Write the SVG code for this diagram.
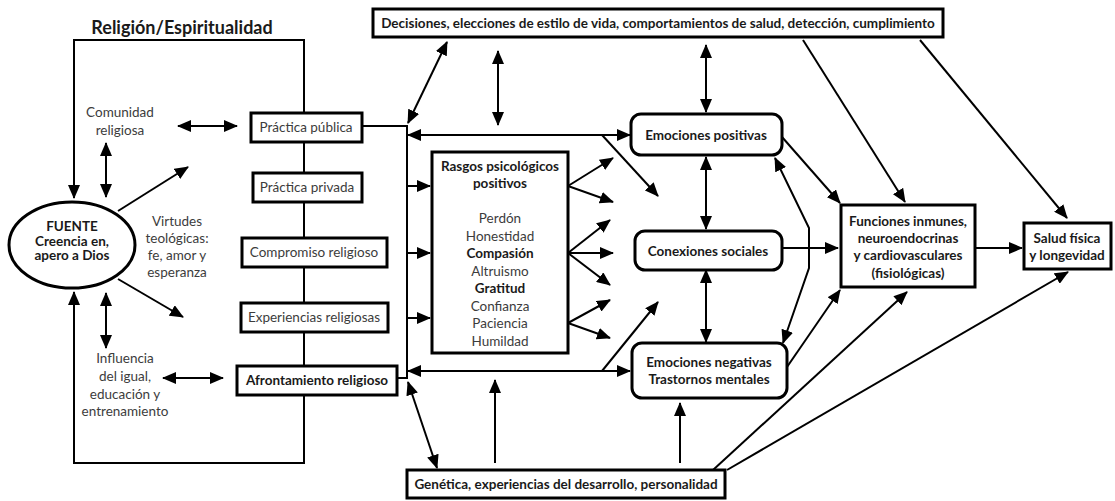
<svg xmlns="http://www.w3.org/2000/svg" width="1115" height="501" viewBox="0 0 1115 501">
  <style>
    text { font-family: Lato, "Open Sans", "Liberation Sans", sans-serif; font-size: 13.5px; fill: #3c3c3c; text-anchor: middle; }
    .b { font-weight: bold; fill: #1a1a1a; }
    .title { font-size: 18px; }
    .box { fill: #fff; stroke: #000; stroke-width: 3; }
    .c { fill: none; stroke: #000; stroke-width: 2; }
    .a { marker-end: url(#ah); }
    .d { marker-start: url(#ah); marker-end: url(#ah); }
  </style>
  <defs>
    <marker id="ah" viewBox="0 0 14 12" refX="13" refY="6" markerWidth="14" markerHeight="12" markerUnits="userSpaceOnUse" orient="auto-start-reverse">
      <path d="M0,0 L14,6 L0,12 z" fill="#000"/>
    </marker>
  </defs>

  <text class="b title" x="182" y="34">Religión/Espiritualidad</text>

  <!-- connectors -->
  <g id="connectors">
    <!-- outer religion frame -->
    <polyline class="c a" points="304,113 304,40 74,40 74,198"/>
    <polyline class="c a" points="304,395 304,463 74,463 74,292"/>
    <!-- chain of religious boxes -->
    <line class="c" x1="304" y1="142" x2="304" y2="366"/>
    <!-- around the source -->
    <line class="c d" x1="106" y1="143" x2="106" y2="197"/>
    <line class="c d" x1="106" y1="293" x2="106" y2="348"/>
    <line class="c a" x1="118" y1="211" x2="188" y2="167"/>
    <line class="c a" x1="118" y1="279" x2="183" y2="317"/>
    <line class="c d" x1="178" y1="126" x2="237" y2="126"/>
    <line class="c d" x1="163" y1="378" x2="223" y2="378"/>
    <!-- bus from practices -->
    <polyline class="c" points="362,126 407,126 407,378 397,378"/>
    <line class="c a" x1="407" y1="186" x2="430" y2="186"/>
    <line class="c a" x1="407" y1="253" x2="430" y2="253"/>
    <line class="c a" x1="407" y1="318" x2="430" y2="318"/>
    <line class="c d" x1="408" y1="123" x2="447" y2="42"/>
    <line class="c d" x1="498" y1="51" x2="498" y2="125"/>
    <line class="c d" x1="408" y1="135" x2="630" y2="135"/>
    <line class="c a" x1="602" y1="135" x2="658" y2="196"/>
    <line class="c d" x1="408" y1="371" x2="630" y2="371"/>
    <line class="c a" x1="602" y1="371" x2="658" y2="302"/>
    <line class="c d" x1="408" y1="382" x2="437" y2="468"/>
    <!-- from the traits box -->
    <line class="c a" x1="568" y1="186" x2="613" y2="158"/>
    <line class="c a" x1="568" y1="186" x2="613" y2="202"/>
    <line class="c a" x1="568" y1="253" x2="610" y2="220"/>
    <line class="c a" x1="568" y1="253" x2="613" y2="253"/>
    <line class="c a" x1="568" y1="253" x2="610" y2="285"/>
    <line class="c a" x1="568" y1="323" x2="610" y2="300"/>
    <line class="c a" x1="568" y1="323" x2="610" y2="338"/>
    <!-- emotions and social connections -->
    <line class="c d" x1="706" y1="45" x2="706" y2="112"/>
    <line class="c d" x1="706" y1="157" x2="706" y2="229"/>
    <line class="c d" x1="706" y1="270" x2="706" y2="342"/>
    <polyline class="c d" points="775,158 809,228 809,268 783,343"/>
    <line class="c a" x1="782" y1="137" x2="840" y2="203"/>
    <line class="c a" x1="782" y1="248" x2="838" y2="248"/>
    <line class="c a" x1="787" y1="367" x2="840" y2="290"/>
    <!-- decisions -->
    <line class="c a" x1="803" y1="40" x2="905" y2="202"/>
    <line class="c a" x1="920" y1="40" x2="1067" y2="218"/>
    <!-- physiology to health -->
    <line class="c a" x1="975" y1="248" x2="1022" y2="248"/>
    <!-- genetics -->
    <line class="c a" x1="495" y1="463" x2="495" y2="380"/>
    <line class="c a" x1="680" y1="463" x2="680" y2="403"/>
    <line class="c a" x1="713" y1="470" x2="907" y2="292"/>
    <line class="c a" x1="727" y1="470" x2="1068" y2="272"/>
  </g>

  <g id="fuente">
    <ellipse class="box" cx="72" cy="245" rx="63" ry="43"/>
    <text class="b" x="72" y="231">FUENTE</text>
    <text class="b" x="72" y="246">Creencia en,</text>
    <text class="b" x="72" y="260">apero a Dios</text>
  </g>

  <g id="comunidad">
    <text x="120" y="117">Comunidad</text>
    <text x="120" y="135">religiosa</text>
  </g>

  <g id="virtudes">
    <text x="177" y="226">Virtudes</text>
    <text x="177" y="243">teológicas:</text>
    <text x="177" y="260">fe, amor y</text>
    <text x="177" y="277">esperanza</text>
  </g>

  <g id="influencia">
    <text x="125" y="363">Influencia</text>
    <text x="125" y="381">del igual,</text>
    <text x="125" y="399">educación y</text>
    <text x="125" y="416">entrenamiento</text>
  </g>

  <g id="practica-publica">
    <rect class="box" x="251" y="113" width="111" height="29"/>
    <text x="306" y="132">Práctica pública</text>
  </g>
  <g id="practica-privada">
    <rect class="box" x="253" y="173" width="109" height="29"/>
    <text x="307" y="192">Práctica privada</text>
  </g>
  <g id="compromiso">
    <rect class="box" x="242" y="238" width="145" height="29"/>
    <text x="314" y="257">Compromiso religioso</text>
  </g>
  <g id="experiencias">
    <rect class="box" x="241" y="303" width="147" height="29"/>
    <text x="314" y="322">Experiencias religiosas</text>
  </g>
  <g id="afrontamiento">
    <rect class="box" x="237" y="366" width="160" height="29"/>
    <text class="b" x="317" y="385">Afrontamiento religioso</text>
  </g>

  <g id="decisiones">
    <rect class="box" x="373" y="9" width="570" height="28"/>
    <text class="b" x="658" y="28">Decisiones, elecciones de estilo de vida, comportamientos de salud, detección, cumplimiento</text>
  </g>

  <g id="rasgos">
    <rect class="box" x="432" y="152" width="136" height="201"/>
    <text class="b" x="500" y="171">Rasgos psicológicos</text>
    <text class="b" x="500" y="188">positivos</text>
    <text x="500" y="223">Perdón</text>
    <text x="500" y="241">Honestidad</text>
    <text class="b" x="500" y="258">Compasión</text>
    <text x="500" y="276">Altruismo</text>
    <text class="b" x="500" y="293">Gratitud</text>
    <text x="500" y="311">Confianza</text>
    <text x="500" y="328">Paciencia</text>
    <text x="500" y="346">Humildad</text>
  </g>

  <g id="emociones-positivas">
    <rect class="box" x="631" y="114" width="151" height="41" rx="10"/>
    <text class="b" x="706" y="140">Emociones positivas</text>
  </g>
  <g id="conexiones-sociales">
    <rect class="box" x="635" y="231" width="147" height="39" rx="10"/>
    <text class="b" x="708" y="256">Conexiones sociales</text>
  </g>
  <g id="emociones-negativas">
    <rect class="box" x="632" y="343" width="155" height="55" rx="10"/>
    <text class="b" x="709" y="367">Emociones negativas</text>
    <text class="b" x="709" y="384">Trastornos mentales</text>
  </g>

  <g id="funciones">
    <rect class="box" x="841" y="205" width="134" height="82"/>
    <text class="b" x="908" y="226">Funciones inmunes,</text>
    <text class="b" x="908" y="243">neuroendocrinas</text>
    <text class="b" x="908" y="260">y cardiovasculares</text>
    <text class="b" x="908" y="278">(fisiológicas)</text>
  </g>

  <g id="salud">
    <rect class="box" x="1024" y="223" width="87" height="46"/>
    <text class="b" x="1067" y="243">Salud física</text>
    <text class="b" x="1067" y="260">y longevidad</text>
  </g>

  <g id="genetica">
    <rect class="box" x="407" y="470" width="318" height="28"/>
    <text class="b" x="566" y="489">Genética, experiencias del desarrollo, personalidad</text>
  </g>
</svg>
